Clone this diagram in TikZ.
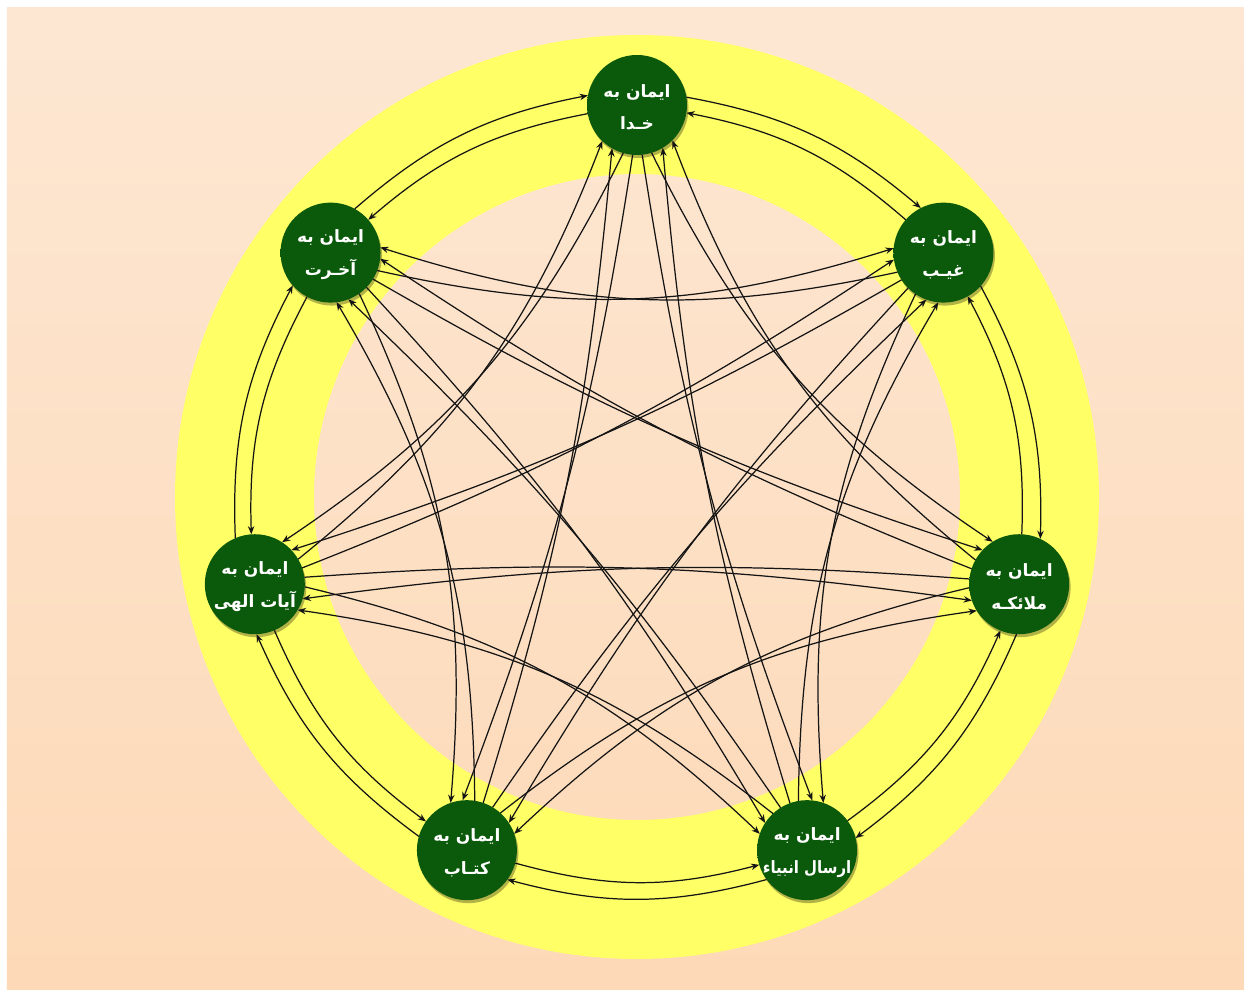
\documentclass[tikz,border=0pt]{standalone}
\usepackage{fontspec}
\TeXXeTstate=1
\newfontfamily\arabicfont[Script=Arabic]{DejaVu Sans}
\usetikzlibrary{arrows.meta}
\definecolor{bgtop}{HTML}{FDE7D3}
\definecolor{bgbot}{HTML}{FDD9B7}
\definecolor{ringyellow}{HTML}{FFFF66}
\definecolor{gin}{HTML}{0B5A0B}
\definecolor{gout}{HTML}{2E8C2E}
\pgfdeclareradialshading{nodeshade}{\pgfpointorigin}{color(0bp)=(gin); color(42bp)=(gin); color(50bp)=(gout)}
\begin{document}
\begin{tikzpicture}[x=0.03cm,y=0.03cm,
  concept/.style={circle, minimum size=3cm, inner sep=0pt, outer sep=0pt,
    shading=nodeshade},
  ntext/.style={text=white, align=center, inner sep=0pt,
    font=\arabicfont\bfseries\fontsize{14.5}{28}\selectfont},
  link/.style={line width=1.05pt, draw=black!92, -{Stealth[length=7pt,width=5.5pt]}},
  nshadow/.style={fill=black, opacity=0.3},
]
\useasboundingbox (-637,-492) rectangle (607,497);
\fill[white] (-637,-492) rectangle (607,497);
\shade[top color=bgtop, bottom color=bgbot] (-630,-492) rectangle (607,489);
\fill[ringyellow, even odd rule] (0,0) circle (462) (0,0) circle (323);
\foreach \i in {0,...,6}{
  \pgfmathsetmacro\ang{90-360*\i/7}
  \fill[nshadow] (\ang:392) ++(1.5,-3) circle (50);
  \node[concept] (n\i) at (\ang:392) {};
}
\foreach \i in {0,...,6}{
  \foreach \s in {1,...,6}{
    \pgfmathtruncatemacro\j{mod(\i+\s,7)}
    \pgfmathsetmacro\al{-360*\i/7-180*\s/7}
    \ifcase\s\or
      \def\dof{35}\def\aof{-37}\def\bl{15}\or
      \def\dof{-22}\def\aof{-6}\def\bl{-15}\or
      \def\dof{-7}\def\aof{-18}\def\bl{-6}\or
      \def\dof{7}\def\aof{18}\def\bl{6}\or
      \def\dof{22}\def\aof{6}\def\bl{15}\or
      \def\dof{-16}\def\aof{16}\def\bl{-15}\fi
    \pgfmathsetmacro\da{\al+\dof}
    \pgfmathsetmacro\aa{\al+180+\aof}
    \draw[link] (n\i.\da) to[bend left=\bl] (n\j.\aa);
  }
}
\foreach \i/\t in {0/{خـدا},1/{غیـب},2/{ملائکـه},4/{کتـاب},5/{آیات الهی},6/{آخـرت}}{
  \node[ntext] (t\i) at ([yshift=-2]n\i.center) {\beginR ایمان به\endR\\\beginR \t\endR};
}
\node[ntext] (t3) at ([yshift=-2]n3.center) {\beginR ایمان به\endR\\\scalebox{0.88}[1]{\beginR ارسال انبیاء\endR}};
\end{tikzpicture}
\end{document}
